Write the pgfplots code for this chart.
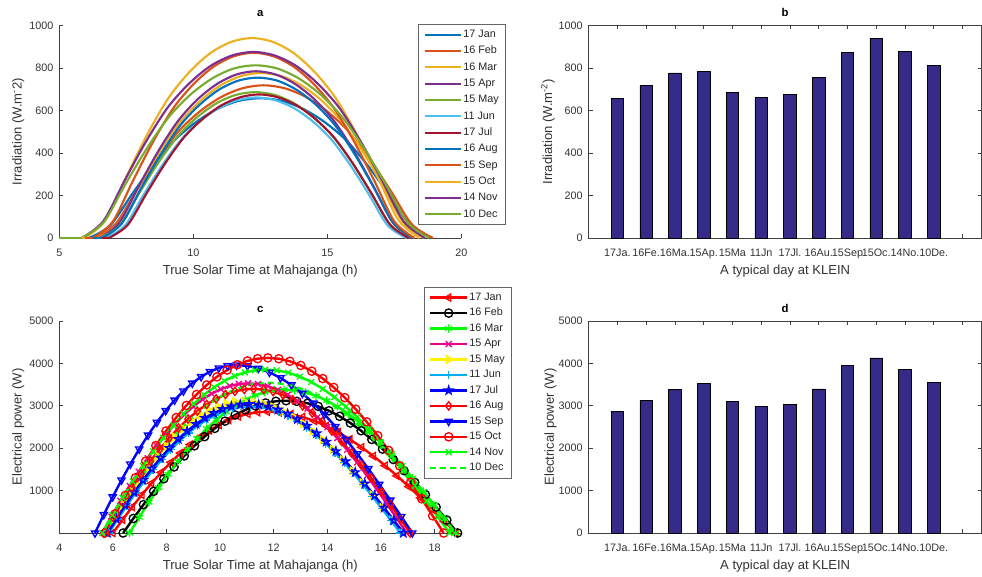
\documentclass[border=0pt]{standalone}
\usepackage{fontspec}
\setmainfont{Liberation Sans}
\usepackage{pgfplots}
\pgfplotsset{compat=1.18}

% matlab default line colours
\definecolor{cA}{rgb}{0,0.447,0.741}
\definecolor{cB}{rgb}{0.850,0.325,0.098}
\definecolor{cC}{rgb}{0.929,0.694,0.125}
\definecolor{cD}{rgb}{0.494,0.184,0.556}
\definecolor{cE}{rgb}{0.466,0.674,0.188}
\definecolor{cF}{rgb}{0.301,0.745,0.933}
\definecolor{cG}{rgb}{0.635,0.078,0.184}
\definecolor{barblue}{rgb}{0.2081,0.1663,0.5292}

\pgfdeclareplotmark{pentagram}{%
  \pgfpathmoveto{\pgfpointpolar{90}{\pgfplotmarksize}}%
  \pgfpathlineto{\pgfpointpolar{126}{0.382\pgfplotmarksize}}%
  \pgfpathlineto{\pgfpointpolar{162}{\pgfplotmarksize}}%
  \pgfpathlineto{\pgfpointpolar{198}{0.382\pgfplotmarksize}}%
  \pgfpathlineto{\pgfpointpolar{234}{\pgfplotmarksize}}%
  \pgfpathlineto{\pgfpointpolar{270}{0.382\pgfplotmarksize}}%
  \pgfpathlineto{\pgfpointpolar{306}{\pgfplotmarksize}}%
  \pgfpathlineto{\pgfpointpolar{342}{0.382\pgfplotmarksize}}%
  \pgfpathlineto{\pgfpointpolar{18}{\pgfplotmarksize}}%
  \pgfpathlineto{\pgfpointpolar{54}{0.382\pgfplotmarksize}}%
  \pgfpathclose\pgfusepathqstroke}

\pgfplotsset{
  every axis title shift=0pt,
  panel/.style={scale only axis, tick align=inside, major tick length=3pt,
    /pgf/number format/assume math mode=true, /pgf/number format/1000 sep={},
    tick label style={font=\fontsize{8.1}{9.7}\selectfont, text=black!80},
    label style={font=\fontsize{9.8}{11.8}\selectfont, text=black!80},
    title style={font=\bfseries\fontsize{8.5}{10}\selectfont, at={(0.5,1)}, anchor=base, yshift=6.5pt},
    xlabel style={at={(axis description cs:0.5,-0.157)}, anchor=center},
    axis line style={black!75, line width=0.5pt},
    tick style={black!75, line width=0.5pt},
    xticklabel style={yshift=-4.5pt}, yticklabel style={xshift=-1pt},
  },
  legbox/.style={draw=black!60, line width=0.4pt, fill=white, inner xsep=4pt, inner ysep=3pt,
    font=\fontsize{8.1}{9.7}\selectfont,
    nodes={inner sep=0.8pt, text height=6pt, text depth=1.8pt, text=black!85}},
}

\begin{document}
\begin{tikzpicture}
\useasboundingbox (0,0) rectangle (736.5pt,432pt);

% ---------------- a ----------------
\begin{axis}[panel, at={(44.5pt,253.5pt)}, anchor=south west, width=301.5pt, height=159.5pt,
  axis x line*=bottom, axis y line*=left, clip=false,
  xmin=5, xmax=20, ymin=0, ymax=1000, xtick={5,10,15,20}, ytick={0,200,...,1000},
  title={a}, xlabel={True Solar Time at Mahajanga (h)},
  ylabel={Irradiation (W.m\textsuperscript{-}2)},
  ylabel style={at={(axis description cs:-0.102,0.5)}, anchor=center},
  legend style={legbox, at={(0.892,1.006)}, anchor=north west, row sep=2.85pt},
  legend cell align=left,
  legend image code/.code={\draw[#1] (0pt,0pt) -- (27.5pt,0pt);},
  every axis plot/.append style={line width=1.6pt},
  ]
\addplot[cA, smooth] coordinates {(6.1,0)(6.9,59)(7.7,204)(8.5,342)(9.3,460)(10.1,545)(10.9,607)(11.7,645)(12.5,657)(13.3,645)(14.1,607)(14.9,545)(15.7,460)(16.5,342)(17.3,204)(18.1,59)(18.9,0)};
\addplot[cB, smooth] coordinates {(6.3,0)(7.09,65)(7.88,223)(8.67,373)(9.46,503)(10.25,596)(11.04,663)(11.83,704)(12.62,718)(13.41,704)(14.2,663)(14.99,596)(15.78,503)(16.57,373)(17.36,223)(18.15,65)(18.94,0)};
\addplot[cC, smooth] coordinates {(6.45,0)(7.21,70)(7.97,241)(8.73,404)(9.49,543)(10.25,644)(11.01,717)(11.77,761)(12.53,776)(13.29,761)(14.05,717)(14.81,644)(15.57,543)(16.33,404)(17.09,241)(17.85,70)(18.61,0)};
\addplot[cD, smooth] coordinates {(6.5,0)(7.23,71)(7.96,243)(8.69,408)(9.42,549)(10.15,651)(10.88,724)(11.61,769)(12.34,784)(13.07,769)(13.8,724)(14.53,651)(15.26,549)(15.99,408)(16.72,243)(17.45,71)(18.18,0)};
\addplot[cE, smooth] coordinates {(6.55,0)(7.27,62)(7.99,213)(8.71,357)(9.43,480)(10.15,569)(10.87,634)(11.59,673)(12.31,686)(13.03,673)(13.75,634)(14.47,569)(15.19,480)(15.91,357)(16.63,213)(17.35,62)(18.07,0)};
\addplot[cF, smooth] coordinates {(6.75,0)(7.45,59)(8.15,205)(8.85,344)(9.55,463)(10.25,549)(10.95,611)(11.65,648)(12.35,661)(13.05,648)(13.75,611)(14.45,549)(15.15,463)(15.85,344)(16.55,205)(17.25,59)(17.95,0)};
\addplot[cG, smooth] coordinates {(6.85,0)(7.55,61)(8.25,209)(8.95,351)(9.65,473)(10.35,560)(11.05,624)(11.75,662)(12.45,675)(13.15,662)(13.85,624)(14.55,560)(15.25,473)(15.95,351)(16.65,209)(17.35,61)(18.05,0)};
\addplot[cA, smooth] coordinates {(6.6,0)(7.33,68)(8.05,234)(8.78,392)(9.5,528)(10.23,626)(10.95,697)(11.68,740)(12.4,754)(13.13,740)(13.85,697)(14.58,626)(15.3,528)(16.03,392)(16.75,234)(17.48,68)(18.2,0)};
\addplot[cB, smooth] coordinates {(6.25,0)(7,78)(7.75,270)(8.5,453)(9.25,610)(10,723)(10.75,805)(11.5,854)(12.25,871)(13,854)(13.75,805)(14.5,723)(15.25,610)(16,453)(16.75,270)(17.5,78)(18.25,0)};
\addplot[cC, smooth] coordinates {(5.95,0)(6.73,85)(7.51,291)(8.29,489)(9.07,658)(9.85,780)(10.63,869)(11.41,922)(12.19,940)(12.97,922)(13.75,869)(14.53,780)(15.31,658)(16.09,489)(16.87,291)(17.65,85)(18.43,0)};
\addplot[cD, smooth] coordinates {(5.84,0)(6.64,79)(7.44,271)(8.24,455)(9.04,613)(9.84,726)(10.64,809)(11.44,858)(12.24,875)(13.04,858)(13.84,809)(14.64,726)(15.44,613)(16.24,455)(17.04,271)(17.84,79)(18.64,0)};
\addplot[cE, smooth] coordinates {(5.84,0)(6.65,73)(7.46,252)(8.27,422)(9.08,568)(9.89,674)(10.7,750)(11.51,797)(12.32,812)(13.13,797)(13.94,750)(14.75,674)(15.56,568)(16.37,422)(17.18,252)(17.99,73)(18.8,0)};
\legend{17 Jan,16 Feb,16 Mar,15 Apr,15 May,11 Jun,17 Jul,16 Aug,15 Sep,15 Oct,14 Nov,10 Dec}
% zero values before sunrise
\addplot[cA, forget plot] coordinates {(5,0)(6.1,0)};
\addplot[cB, forget plot] coordinates {(5,0)(6.3,0)};
\addplot[cC, forget plot] coordinates {(5,0)(6.45,0)};
\addplot[cD, forget plot] coordinates {(5,0)(6.5,0)};
\addplot[cE, forget plot] coordinates {(5,0)(6.55,0)};
\addplot[cF, forget plot] coordinates {(5,0)(6.75,0)};
\addplot[cG, forget plot] coordinates {(5,0)(6.85,0)};
\addplot[cA, forget plot] coordinates {(5,0)(6.6,0)};
\addplot[cB, forget plot] coordinates {(5,0)(6.25,0)};
\addplot[cC, forget plot] coordinates {(5,0)(5.95,0)};
\addplot[cD, forget plot] coordinates {(5,0)(5.84,0)};
\addplot[cE, forget plot] coordinates {(5,0)(5.84,0)};
\end{axis}

% ---------------- b ----------------
\begin{axis}[panel, at={(441.5pt,253.5pt)}, anchor=south west, width=294.75pt, height=159.5pt,
  xmin=0, xmax=13.67, ymin=0, ymax=1000, ytick={0,200,...,1000},
  xtick={1,...,13},
  xticklabels={17Ja.,16Fe.,16Ma.,15Ap.,15Ma,11Jn,17Jl.,16Au.,15Sep,15Oc.,14No.,10De.,{}},
  title={b}, xlabel={A typical day at KLEIN},
  ylabel={Irradiation (W.m\textsuperscript{-2})},
  ylabel style={at={(axis description cs:-0.1036,0.5)}, anchor=center},
  ]
\addplot[ybar, bar width=0.43, fill=barblue, draw=black, line width=0.5pt]
  coordinates {(1,657)(2,718)(3,776)(4,784)(5,686)(6,661)(7,675)(8,754)(9,871)(10,939)(11,876)(12,812)};
\end{axis}

% ---------------- c ----------------
\begin{axis}[panel, at={(44.5pt,32.25pt)}, anchor=south west, width=301.5pt, height=159pt,
  axis x line*=bottom, axis y line*=left, clip=false,
  xmin=4, xmax=19, ymin=0, ymax=5000, xtick={4,6,...,18}, ytick={1000,2000,...,5000},
  title={c}, xlabel={True Solar Time at Mahajanga (h)},
  ylabel={Electrical power (W)},
  ylabel style={at={(axis description cs:-0.102,0.5)}, anchor=center},
  legend style={legbox, at={(0.906,1.160)}, anchor=north west, row sep=2.2pt},
  legend cell align=left,
  legend image code/.code={\draw[mark repeat=2,mark phase=2,#1] plot coordinates {(0pt,0pt) (13.75pt,0pt) (27.5pt,0pt)};},
  every axis plot/.append style={line width=1.8pt, mark size=3.1pt},
  ]
\addplot[red, mark=triangle, mark options={solid, rotate=90, line width=1pt}] coordinates {
(6.00,0)(6.36,314)(6.72,614)(7.08,901)(7.44,1173)(7.80,1428)(8.16,1666)(8.52,1885)(8.88,2084)(9.24,2262)(9.60,2418)(9.96,2551)(10.32,2662)(10.68,2748)(11.04,2810)(11.40,2848)(11.76,2860)
(12.20,2846)(12.64,2805)(13.08,2737)(13.52,2642)(13.96,2522)(14.40,2378)(14.84,2211)(15.28,2022)(15.72,1814)(16.16,1589)(16.60,1348)(17.04,1095)(17.48,830)(17.92,558)(18.36,280)(18.80,0)};
\addplot[black, mark=o, mark options={solid, line width=1pt}] coordinates {
(6.38,0)(6.76,342)(7.14,670)(7.52,983)(7.90,1280)(8.28,1558)(8.66,1817)(9.04,2056)(9.42,2273)(9.80,2467)(10.18,2638)(10.56,2783)(10.94,2904)(11.32,2998)(11.70,3066)(12.08,3107)(12.46,3120)
(12.86,3105)(13.26,3060)(13.66,2986)(14.06,2883)(14.46,2752)(14.86,2594)(15.26,2412)(15.66,2206)(16.06,1979)(16.46,1734)(16.86,1471)(17.26,1194)(17.66,906)(18.06,609)(18.46,306)(18.86,0)};
\addplot[green, mark=asterisk, mark options={solid, line width=1pt}] coordinates {
(6.62,0)(6.98,370)(7.34,726)(7.70,1065)(8.06,1386)(8.42,1688)(8.78,1969)(9.14,2227)(9.50,2463)(9.86,2673)(10.22,2858)(10.58,3015)(10.94,3146)(11.30,3248)(11.66,3321)(12.02,3366)(12.38,3380)
(12.78,3364)(13.18,3315)(13.58,3234)(13.98,3123)(14.38,2981)(14.78,2811)(15.18,2613)(15.58,2390)(15.98,2144)(16.38,1878)(16.78,1593)(17.18,1294)(17.58,981)(17.98,659)(18.38,331)(18.78,0)};
\addplot[magenta, mark=x, mark options={solid, line width=1pt}] coordinates {
(5.60,0)(5.94,387)(6.28,758)(6.62,1112)(6.96,1448)(7.30,1763)(7.64,2056)(7.98,2326)(8.32,2572)(8.66,2792)(9.00,2985)(9.34,3149)(9.68,3285)(10.02,3392)(10.36,3469)(10.70,3515)(11.04,3530)
(11.41,3513)(11.78,3462)(12.15,3378)(12.52,3261)(12.89,3113)(13.26,2935)(13.63,2729)(14.00,2496)(14.37,2239)(14.74,1961)(15.11,1664)(15.48,1351)(15.85,1025)(16.22,689)(16.59,346)(16.96,0)};
\addplot[yellow, mark=triangle, mark options={solid, rotate=-90, line width=1pt}] coordinates {
(5.75,0)(6.07,341)(6.39,668)(6.71,980)(7.03,1275)(7.35,1553)(7.67,1812)(7.99,2050)(8.31,2266)(8.63,2459)(8.95,2630)(9.27,2774)(9.59,2895)(9.91,2988)(10.23,3056)(10.55,3097)(10.87,3110)
(11.24,3095)(11.61,3050)(11.98,2976)(12.35,2873)(12.72,2743)(13.09,2586)(13.46,2404)(13.83,2199)(14.20,1973)(14.57,1728)(14.94,1466)(15.31,1190)(15.68,903)(16.05,607)(16.42,305)(16.79,0)};
\addplot[cyan, mark=+, mark options={solid, line width=1pt}] coordinates {
(5.85,0)(6.18,327)(6.51,641)(6.84,941)(7.17,1224)(7.50,1491)(7.83,1739)(8.16,1967)(8.49,2175)(8.82,2361)(9.15,2524)(9.48,2663)(9.81,2778)(10.14,2868)(10.47,2933)(10.80,2972)(11.13,2985)
(11.48,2971)(11.83,2928)(12.18,2856)(12.53,2758)(12.88,2633)(13.23,2482)(13.58,2307)(13.93,2111)(14.28,1894)(14.63,1659)(14.98,1407)(15.33,1142)(15.68,867)(16.03,582)(16.38,293)(16.73,0)};
\addplot[blue, mark=pentagram, mark options={solid, line width=1pt}] coordinates {
(5.80,0)(6.13,333)(6.46,653)(6.79,958)(7.12,1247)(7.45,1518)(7.78,1771)(8.11,2003)(8.44,2215)(8.77,2404)(9.10,2570)(9.43,2712)(9.76,2829)(10.09,2921)(10.42,2987)(10.75,3027)(11.08,3040)
(11.44,3025)(11.80,2982)(12.16,2909)(12.52,2809)(12.88,2681)(13.24,2528)(13.60,2350)(13.96,2150)(14.32,1929)(14.68,1689)(15.04,1433)(15.40,1163)(15.76,883)(16.12,593)(16.48,298)(16.84,0)};
\addplot[red, mark=diamond, mark options={solid, line width=1pt}] coordinates {
(5.65,0)(6.00,373)(6.35,730)(6.70,1071)(7.05,1394)(7.40,1698)(7.75,1981)(8.10,2241)(8.45,2477)(8.80,2689)(9.15,2875)(9.50,3033)(9.85,3164)(10.20,3267)(10.55,3341)(10.90,3385)(11.25,3400)
(11.62,3384)(11.98,3335)(12.35,3254)(12.71,3141)(13.08,2999)(13.44,2827)(13.81,2628)(14.17,2404)(14.54,2157)(14.90,1889)(15.27,1603)(15.63,1301)(16.00,987)(16.36,663)(16.73,333)(17.09,0)};
\addplot[blue, mark=triangle, mark options={solid, rotate=180, line width=1pt}] coordinates {
(5.33,0)(5.66,434)(5.99,851)(6.32,1248)(6.65,1624)(6.98,1978)(7.31,2307)(7.64,2610)(7.97,2885)(8.30,3132)(8.63,3348)(8.96,3533)(9.29,3686)(9.62,3805)(9.95,3891)(10.28,3943)(10.61,3960)
(11.02,3941)(11.43,3884)(11.84,3789)(12.25,3659)(12.66,3492)(13.07,3293)(13.48,3061)(13.89,2800)(14.30,2512)(14.71,2200)(15.12,1867)(15.53,1516)(15.94,1150)(16.35,773)(16.76,388)(17.17,0)};
\addplot[red, mark=o, mark options={solid, line width=1pt}] coordinates {
(5.70,0)(6.08,453)(6.46,887)(6.84,1301)(7.22,1694)(7.60,2063)(7.98,2406)(8.36,2722)(8.74,3009)(9.12,3266)(9.50,3492)(9.88,3684)(10.26,3844)(10.64,3969)(11.02,4058)(11.40,4112)(11.78,4130)
(12.19,4110)(12.60,4051)(13.01,3952)(13.42,3816)(13.83,3642)(14.24,3434)(14.65,3193)(15.06,2920)(15.47,2620)(15.88,2295)(16.29,1947)(16.70,1581)(17.11,1199)(17.52,806)(17.93,405)(18.34,0)};
\addplot[green, mark=x, mark options={solid, line width=1pt}] coordinates {
(5.60,0)(5.98,423)(6.36,828)(6.74,1215)(7.12,1581)(7.50,1925)(7.88,2246)(8.26,2540)(8.64,2809)(9.02,3049)(9.40,3259)(9.78,3439)(10.16,3588)(10.54,3704)(10.92,3788)(11.30,3838)(11.68,3855)
(12.11,3837)(12.54,3781)(12.97,3689)(13.40,3562)(13.83,3400)(14.26,3205)(14.69,2980)(15.12,2726)(15.55,2446)(15.98,2142)(16.41,1817)(16.84,1475)(17.27,1119)(17.70,752)(18.13,378)(18.56,0)};
\addplot[green, dash pattern=on 4.5pt off 3pt] coordinates {
(5.70,0)(6.08,389)(6.46,762)(6.84,1117)(7.22,1454)(7.60,1770)(7.98,2065)(8.36,2336)(8.74,2583)(9.12,2803)(9.50,2997)(9.88,3163)(10.26,3299)(10.64,3406)(11.02,3483)(11.40,3530)(11.78,3545)
(12.21,3528)(12.64,3477)(13.07,3392)(13.50,3275)(13.93,3126)(14.36,2948)(14.79,2740)(15.22,2507)(15.65,2249)(16.08,1970)(16.51,1671)(16.94,1357)(17.37,1029)(17.80,692)(18.23,347)(18.66,0)};
\legend{17 Jan,16 Feb,16 Mar,15 Apr,15 May,11 Jun,17 Jul,16 Aug,15 Sep,15 Oct,14 Nov,10 Dec}
\end{axis}

% ---------------- d ----------------
\begin{axis}[panel, at={(441.5pt,32.25pt)}, anchor=south west, width=294.75pt, height=159pt,
  xmin=0, xmax=13.67, ymin=0, ymax=5000, ytick={0,1000,...,5000},
  xtick={1,...,13},
  xticklabels={17Ja.,16Fe.,16Ma.,15Ap.,15Ma,11Jn,17Jl.,16Au.,15Sep,15Oc.,14No.,10De.,{}},
  title={d}, xlabel={A typical day at KLEIN},
  ylabel={Electrical power (W)},
  ylabel style={at={(axis description cs:-0.097,0.5)}, anchor=center},
  ]
\addplot[ybar, bar width=0.43, fill=barblue, draw=black, line width=0.5pt]
  coordinates {(1,2859)(2,3120)(3,3381)(4,3531)(5,3112)(6,2986)(7,3041)(8,3397)(9,3957)(10,4131)(11,3855)(12,3547)};
\end{axis}
\end{tikzpicture}
\end{document}
